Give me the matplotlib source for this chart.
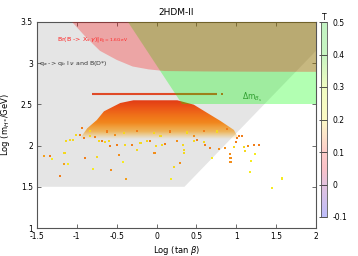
import numpy as np
import matplotlib
matplotlib.use('Agg')
import matplotlib.pyplot as plt
from matplotlib.colors import LinearSegmentedColormap, Normalize
from matplotlib.patches import Polygon
import matplotlib.cm as cm

# ---------------- data ----------------
xticks = [-1.5, -1, -0.5, 0, 0.5, 1, 1.5, 2]
yticks = [1, 1.5, 2, 2.5, 3, 3.5]
cbar_ticks = [-0.1, 0, 0.1, 0.2, 0.3, 0.4, 0.5]

grey_x = [-1.5, 0.35, 2.0, 2.0, -1.5]
grey_y = [1.5, 1.5, 3.15, 3.5, 3.5]

green_x = [0.32, 2.0, 2.0, -0.36]
green_y = [2.5, 2.5, 3.5, 3.5]

pink_x = [-1.06, -0.9, -0.71, -0.5, -0.3, -0.1, 0.1, 0.6, 1.2, 2.0]
pink_y = [3.5, 3.33, 3.15, 3.04, 2.96, 2.925, 2.905, 2.9, 2.897, 2.895]

cloud_x = [-0.95, -0.87, -0.75, -0.66, -0.455, -0.29, 0.26, 0.466, 0.63, 0.80, 0.97, 1.02]
cloud_top = [2.10, 2.21, 2.31, 2.416, 2.517, 2.55, 2.55, 2.497, 2.40, 2.30, 2.19, 2.10]
cloud_bottom = 2.08

band_x = [-0.81, 0.76]
band_y = 2.625
band_dot_x = 0.82

pts_x = [-1.408, -1.333, -1.312, -1.216, -1.165, -1.145, -1.165, -1.115, -1.132, -1.082,
         -1.048, -1.006, -0.965, -0.914, -0.894, -0.831, -0.797, -0.768, -0.747, -0.726,
         -0.684, -0.643, -0.601, -0.588, -0.572, -0.496, -0.475, -0.421, -0.392, -0.379,
         -0.308, -0.245, -0.203, -0.120, -0.078, -0.036, -0.015, -0.003, 0.068, 0.110,
         0.181, 0.215, 0.257, 0.298, 0.328, 0.340, 0.340, 0.466, 0.508, 0.591,
         0.612, 0.675, 0.696, 0.779, 0.863, 0.917, 0.926, 0.926, 0.968, 1.001,
         1.009, 1.030, 1.072, 1.093, 1.114, 1.143, 1.168, 1.185, 1.219, 1.239,
         1.281, 1.445, 1.570,
         -0.935, -0.831, -0.620, -0.410, -0.245, -0.036, 0.173, 0.382, 0.591, 0.758,
         0.884, -0.520, 0.050, 0.470]
pts_y = [1.870, 1.870, 1.837, 1.627, 1.910, 1.910, 1.777, 1.777, 2.052, 2.064,
         2.072, 2.133, 2.125, 2.092, 1.849, 2.112, 1.720, 2.100, 1.858, 2.052,
         2.060, 2.044, 2.052, 1.991, 1.704, 2.011, 1.890, 1.801, 2.011, 1.599,
         2.011, 1.951, 2.032, 2.052, 2.052, 1.910, 1.910, 1.991, 2.011, 2.019,
         1.599, 1.736, 2.052, 1.789, 2.011, 1.951, 1.910, 2.052, 2.072, 2.040,
         2.011, 1.971, 1.849, 1.959, 1.971, 1.898, 1.849, 1.801, 1.979, 2.040,
         2.092, 2.112, 2.112, 1.979, 1.930, 1.991, 1.680, 1.809, 2.011, 1.898,
         2.011, 1.485, 1.600,
         2.213, 2.180, 2.170, 2.150, 2.180, 2.150, 2.170, 2.160, 2.180, 2.170,
         2.200, 2.130, 2.120, 2.120]
pts_t = [0.6, 0.4, 1.0, 0.4, 0.9, 0.9, 0.6, 1.0, 0.9, 0.9,
         0.9, 0.9, 0.4, 0.4, 0.4, 0.9, 1.0, 0.4, 0.9, 0.9,
         0.4, 0.9, 0.9, 0.4, 0.5, 0.4, 0.5, 1.0, 0.9, 0.6,
         0.4, 0.9, 0.9, 0.9, 0.4, 0.5, 0.5, 0.9, 0.9, 0.4,
         1.0, 0.9, 0.5, 0.5, 0.9, 0.9, 0.9, 0.9, 0.4, 0.9,
         0.4, 0.4, 1.0, 0.5, 0.5, 0.5, 0.5, 0.5, 0.9, 0.4,
         0.4, 0.4, 0.4, 0.9, 0.9, 0.5, 1.0, 1.0, 0.4, 1.0,
         0.4, 1.0, 1.0,
         0.4, 0.9, 0.4, 0.9, 0.4, 0.9, 0.4, 0.9, 0.4, 0.9,
         0.4, 0.5, 0.9, 0.5]

# ---------------- figure ----------------
fig = plt.figure(figsize=(3.58, 2.56), dpi=100)
ax = fig.add_axes([37/358, 1-228/256, 279/358, 206/256])

# grey region (below points)
ax.add_patch(Polygon(list(zip(grey_x, grey_y)), closed=True, facecolor='black',
                     alpha=0.10, edgecolor='none', zorder=1))

# dense cloud: gradient clipped to its envelope
gy = np.linspace(cloud_bottom, max(cloud_top), 200)
col_y = [2.08, 2.22, 2.36, 2.47, 2.56]
col_r = [0.95, 0.95, 0.94, 0.92, 0.88]
col_g = [0.70, 0.58, 0.45, 0.32, 0.22]
col_b = [0.14, 0.12, 0.10, 0.09, 0.08]
alpha_y = [2.08, 2.17, 2.28, 2.6]
alpha_v = [0.0, 0.7, 1.0, 1.0]
img = np.zeros((len(gy), 2, 4))
img[:, :, 0] = np.interp(gy, col_y, col_r)[:, None]
img[:, :, 1] = np.interp(gy, col_y, col_g)[:, None]
img[:, :, 2] = np.interp(gy, col_y, col_b)[:, None]
img[:, :, 3] = np.interp(gy, alpha_y, alpha_v)[:, None]
im = ax.imshow(img, extent=[min(cloud_x), max(cloud_x), cloud_bottom, max(cloud_top)],
               origin='lower', aspect='auto', interpolation='bilinear', zorder=2)
env = Polygon(list(zip(cloud_x, cloud_top)) + [(max(cloud_x), cloud_bottom), (min(cloud_x), cloud_bottom)],
              closed=True, transform=ax.transData, facecolor='none', edgecolor='none')
im.set_clip_path(env)
ax.set_xlim(-1.5, 2)
ax.set_ylim(1, 3.5)

# sparse points
pt_cmap = LinearSegmentedColormap.from_list('pts', [(0.90, 0.25, 0.10), (0.95, 0.55, 0.10), (0.96, 0.92, 0.12)])
ax.scatter(pts_x, pts_y, c=pts_t, cmap=pt_cmap, vmin=0, vmax=1, s=2.6, marker='s',
           linewidths=0, zorder=3)

# horizontal band of points
ax.plot(band_x, [band_y, band_y], color='#e04a28', lw=1.5, solid_capstyle='butt', zorder=3)
ax.scatter([band_dot_x], [band_y], color='#e04a28', s=2.6, marker='s', linewidths=0, zorder=3)

# green (Delta m_Bs) region over points
ax.add_patch(Polygon(list(zip(green_x, green_y)), closed=True, facecolor=(0, 1, 0),
                     alpha=0.30, edgecolor='none', zorder=4))
# pink (b -> s gamma) region
ax.add_patch(Polygon(list(zip(pink_x, pink_y)) + [(2.0, 3.5)], closed=True, facecolor=(1, 0, 0),
                     alpha=0.28, edgecolor='none', zorder=5))

# texts
ax.text(-1.25, 3.28, r'Br(B -> X$_s$ $\gamma$)$|_{E_0=1.6\,\mathrm{GeV}}$', color='#ff2020',
        fontsize=4.5, va='center', ha='left', zorder=6)
ax.text(-1.47, 3.0, r'q$_a$ -> q$_b$ l $\nu$ and B(D*)', color='#333333',
        fontsize=4.5, va='center', ha='left', zorder=6)
ax.text(1.2, 2.59, r'$\Delta$m$_{B_s}$', color='#30a030', fontsize=5.5,
        va='center', ha='center', zorder=6)

ax.set_xticks(xticks)
ax.set_xticklabels(['-1.5', '-1', '-0.5', '0', '0.5', '1', '1.5', '2'])
ax.set_yticks(yticks)
ax.set_yticklabels(['1', '1.5', '2', '2.5', '3', '3.5'])
ax.tick_params(direction='in', length=3, width=0.6, labelsize=5.5, top=True, right=True,
               colors='#555555', labelcolor='black', pad=3)
for s in ax.spines.values():
    s.set_color('#555555')
    s.set_linewidth(0.8)

ax.set_title('2HDM-II', fontsize=6.5, pad=5)
ax.set_xlabel(r'Log (tan $\beta$)', fontsize=6, labelpad=2)
ax.set_ylabel(r'Log (m$_{H^{\pm}}$/GeV)', fontsize=6, labelpad=6)

# colorbar
cax = fig.add_axes([321/358, 1-217/256, 6/358, 195/256])
cb_nodes = [(0.0, (0.74, 0.74, 0.98)), (1/6, (0.89, 0.76, 0.87)), (0.25, (0.98, 0.76, 0.78)),
            (2/6, (0.99, 0.80, 0.79)), (2.5/6, (0.99, 0.89, 0.79)), (3/6, (0.99, 0.98, 0.77)),
            (4/6, (0.94, 0.99, 0.76)), (4.5/6, (0.86, 0.97, 0.76)), (5/6, (0.78, 0.96, 0.76)),
            (1.0, (0.76, 0.95, 0.76))]
cb_cmap = LinearSegmentedColormap.from_list('tcm', cb_nodes)
sm = cm.ScalarMappable(norm=Normalize(-0.1, 0.5), cmap=cb_cmap)
cb = fig.colorbar(sm, cax=cax, ticks=cbar_ticks)
cb.ax.set_yticklabels(['-0.1', '0', '0.1', '0.2', '0.3', '0.4', '0.5'])
cb.ax.tick_params(direction='in', length=6, width=0.6, labelsize=5.5, colors='#333333',
                  labelcolor='black', pad=4)
cb.outline.set_edgecolor('#555555')
cb.outline.set_linewidth(0.6)
fig.text(324/358, 1-17/256, 'T', fontsize=5.5, ha='center', va='center')

fig.savefig('out.png', dpi=100)
